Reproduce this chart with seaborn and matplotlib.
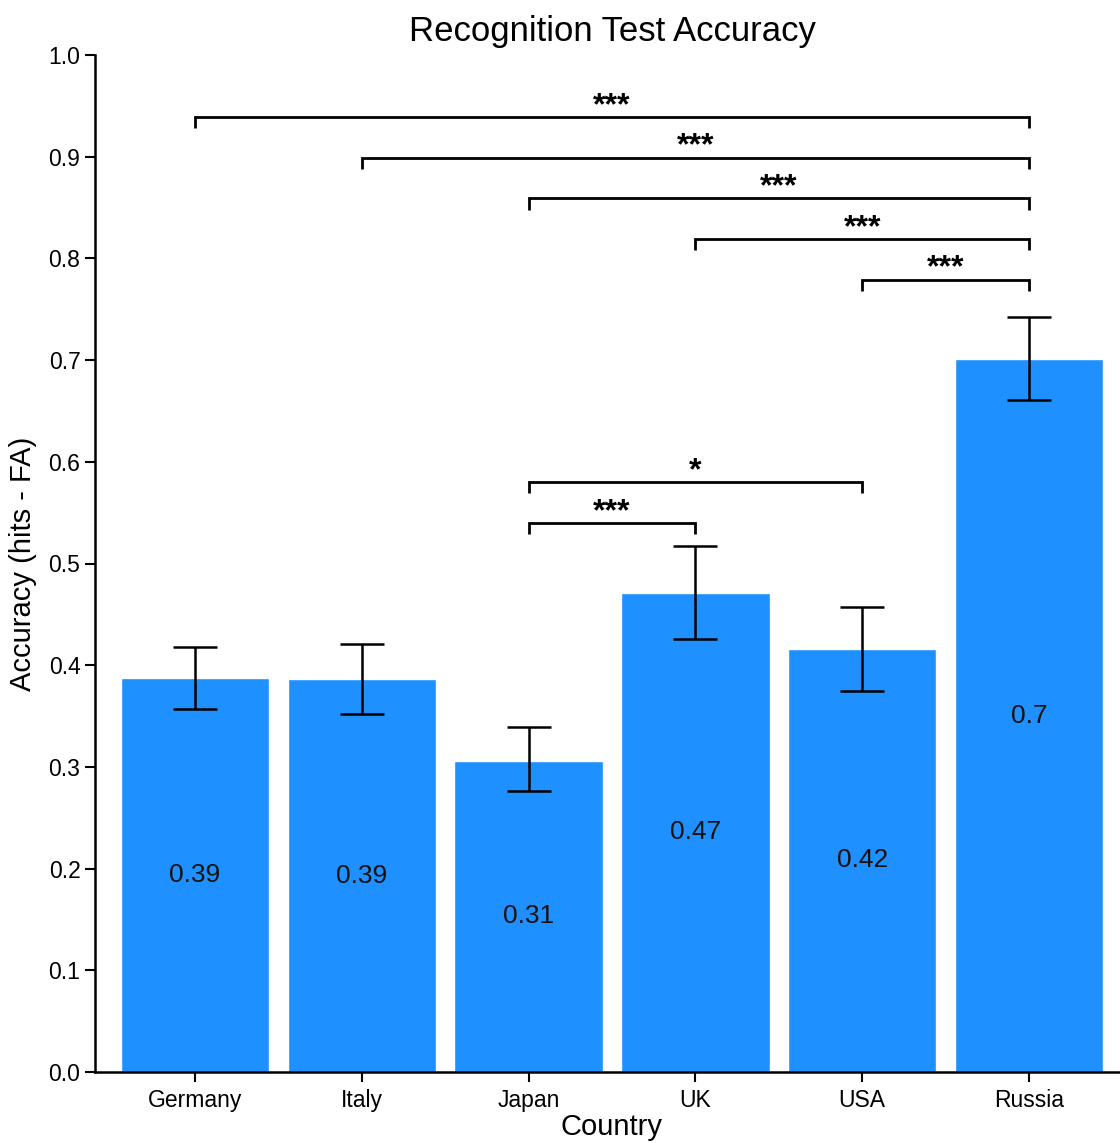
import matplotlib
matplotlib.use("Agg")
import matplotlib.pyplot as plt
import numpy as np
import pandas as pd
import seaborn as sns

# Mean accuracy (hits - FA) per country with confidence limits
countries = ["Germany", "Italy", "Japan", "UK", "USA", "Russia"]
accuracy = [0.387, 0.386, 0.306, 0.471, 0.416, 0.701]
ci_low = [0.357, 0.352, 0.276, 0.426, 0.375, 0.661]
ci_high = [0.418, 0.421, 0.339, 0.517, 0.457, 0.742]

# Pairwise comparisons: (group a, group b, bracket height, label)
comparisons = [
    ("Germany", "Russia", 0.939, "***"),
    ("Italy", "Russia", 0.899, "***"),
    ("Japan", "Russia", 0.859, "***"),
    ("UK", "Russia", 0.819, "***"),
    ("USA", "Russia", 0.779, "***"),
    ("Japan", "USA", 0.580, "*"),
    ("Japan", "UK", 0.540, "***"),
]

df = pd.DataFrame({"Country": countries, "Accuracy": accuracy})

sns.set_theme(style="ticks")
plt.rcParams["font.family"] = ["Liberation Sans", "DejaVu Sans"]
plt.rcParams["text.color"] = "black"
plt.rcParams["axes.labelcolor"] = "black"

W, H = 1120, 1143
fig = plt.figure(figsize=(W / 100, H / 100), dpi=100)
ax = fig.add_axes([95 / W, (H - 1072) / H, (1129 - 95) / W, (1072 - 55) / H])

sns.barplot(data=df, x="Country", y="Accuracy", order=countries,
            color="#1E90FF", saturation=1, width=0.89, errorbar=None, ax=ax)

xpos = np.arange(len(countries))
acc = np.array(accuracy)
lo = acc - np.array(ci_low)
hi = np.array(ci_high) - acc
ax.errorbar(xpos, acc, yerr=[lo, hi], fmt="none", ecolor="black",
            elinewidth=1.8, capsize=16, capthick=1.8, zorder=3)

for x, v in zip(xpos, accuracy):
    ax.text(x, v / 2, f"{round(v, 2):g}", ha="center", va="center",
            fontsize=19, color="#111111")

idx = {c: i for i, c in enumerate(countries)}
drop = 0.011
for a, b, y, lab in comparisons:
    xa, xb = idx[a], idx[b]
    ax.plot([xa, xa, xb, xb], [y - drop, y, y, y - drop], color="black",
            lw=2, solid_capstyle="butt", solid_joinstyle="miter", zorder=4)
    ax.text((xa + xb) / 2, y + 0.003, lab, ha="center", va="baseline",
            fontsize=23, color="black", fontweight="bold")

ax.set_xlim(-0.6, 5.6)
ax.set_ylim(0, 1.0)
ax.set_yticks(np.arange(0, 1.01, 0.1))
ax.set_yticklabels([f"{t:.1f}" for t in np.arange(0, 1.01, 0.1)])
ax.tick_params(axis="both", labelsize=16.5, length=7, width=1.5,
               colors="black", labelcolor="black")
ax.tick_params(axis="x", pad=5)
for side in ["top", "right"]:
    ax.spines[side].set_visible(False)
for side in ["left", "bottom"]:
    ax.spines[side].set_linewidth(1.8)
    ax.spines[side].set_color("black")

ax.set_xlabel("Country", fontsize=21, labelpad=1)
ax.set_ylabel("Accuracy (hits - FA)", fontsize=21, labelpad=8)
ax.set_title("Recognition Test Accuracy", fontsize=25, pad=10, color="black")

fig.savefig("out.png", dpi=100)
